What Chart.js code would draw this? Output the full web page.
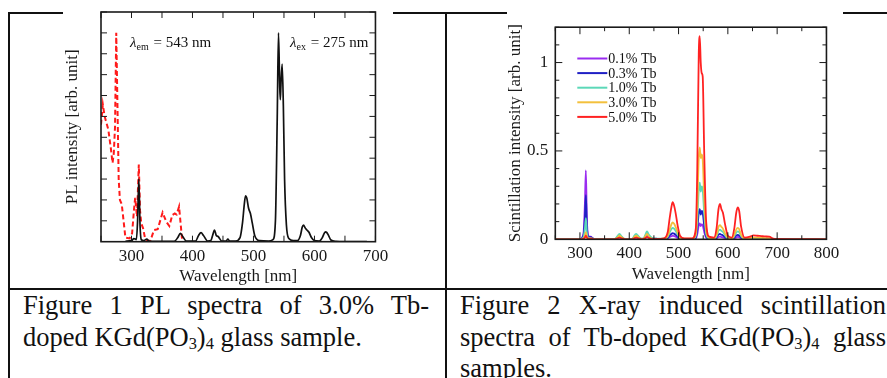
<!DOCTYPE html>
<html lang="en">
<head>
<meta charset="UTF-8">
<title>Tb-doped KGd(PO3)4 spectra</title>
<script src="https://cdn.jsdelivr.net/npm/chart.js"></script>
<style>
    body {
        margin: 0;
        width: 887px;
        height: 378px;
        overflow: hidden;
        position: relative;
        background: #fff;
        color: #111;
        font-family: "Liberation Serif", serif;
    }
    .rule { position: absolute; background: #111; }
    .fig { position: absolute; top: 10px; }
    .cap { position: absolute; top: 290px; font-size: 26.5px; line-height: 31.7px; }
    .cap .j { text-align: justify; text-align-last: justify; }
    sub { font-size: 0.62em; vertical-align: -0.18em; line-height: 0; }
</style>
</head>
<body>
    <!-- table rules -->
    <div class="rule" style="left:8px; top:12px; width:879px; height:2px;"></div>
    <div class="rule" style="left:8px; top:12px; width:2px; height:366px;"></div>
    <div class="rule" style="left:445px; top:12px; width:2px; height:366px;"></div>
    <div class="rule" style="left:8px; top:288px; width:879px; height:2px;"></div>

    <canvas id="fig1" class="fig" style="left:63px;" width="330" height="277"></canvas>
    <canvas id="fig2" class="fig" style="left:507px;" width="336" height="277"></canvas>

    <div class="cap" style="left:23px; width:406px;">
        <div class="j">Figure 1 PL spectra of 3.0% Tb-</div>
        <div>doped KGd(PO<sub>3</sub>)<sub>4</sub> glass sample.</div>
    </div>
    <div class="cap" style="left:460px; width:426px;">
        <div class="j">Figure 2 X-ray induced scintillation</div>
        <div class="j">spectra of Tb-doped KGd(PO<sub>3</sub>)<sub>4</sub> glass</div>
        <div>samples.</div>
    </div>

<script>
// Figure 1: PL emission (ex 275 nm) and excitation (em 543 nm), arb. units
const plEmWl = [290, 300, 304, 308, 310, 312, 314, 316, 320, 325, 329, 340, 370, 376, 380, 384, 390, 405, 410, 414,
    418, 425, 430, 433, 436, 439, 442, 448, 455, 458, 461, 470, 478, 482, 485, 487, 489, 492, 495, 498,
    502, 510, 525, 532, 536, 539, 541, 543, 544, 545, 547, 549, 551, 554, 558, 565, 572, 577, 580, 582,
    585, 588, 591, 595, 600, 608, 613, 616, 618, 620, 623, 627, 635, 650, 670, 686];
const plEm = [0.02, 0.05, 0.15, 0.1, 1.0, 3.0, 0.8, 0.1, 0.05, 0.12, 0.03, 0.02, 0.02, 0.2, 0.4, 0.25, 0.03, 0.03, 0.3, 0.43,
    0.3, 0.03, 0.05, 0.3, 0.56, 0.3, 0.25, 0.03, 0.03, 0.12, 0.03, 0.03, 0.2, 0.9, 1.8, 2.2, 2.1, 1.6, 1.35, 0.9,
    0.3, 0.05, 0.03, 0.1, 1.0, 6.0, 10.0, 7.5, 6.8, 7.5, 8.5, 6.5, 3.0, 0.8, 0.15, 0.05, 0.05, 0.3, 0.7, 0.8,
    0.65, 0.55, 0.45, 0.2, 0.05, 0.03, 0.2, 0.4, 0.47, 0.45, 0.3, 0.08, 0.02, 0.01, 0.01, 0.01];
const plExWl = [250, 253, 256, 262, 266, 269, 271, 273, 275, 277, 279, 281, 284, 287, 290, 297, 301, 304, 306, 309,
    312, 314, 316, 319, 322, 326, 331, 337, 343, 351, 357, 362, 367, 371, 374, 378, 381, 383];
const plEx = [5.6, 6.57, 6.0, 5.37, 4.5, 3.77, 4.25, 5.5, 10.0, 6.5, 3.0, 2.0, 1.8, 1.0, 0.2, 0.16, 0.4, 1.5, 2.1, 1.2,
    3.7, 1.5, 0.88, 0.64, 0.2, 0.05, 0.05, 0.56, 0.6, 1.4, 0.96, 0.75, 1.28, 1.35, 1.3, 1.68, 0.72, 0.1];
const fig1XTicks = [300, 400, 500, 600, 700];

// Figure 2: X-ray induced scintillation spectra
const scWl = [250, 300, 307, 310, 312, 314, 317, 322, 326, 330, 370, 376, 380, 385, 392, 406, 410, 414, 419, 426,
    430, 433, 436, 440, 446, 455, 470, 478, 482, 486, 488, 491, 494, 498, 503, 512, 528, 535, 538, 541,
    543, 545, 547, 549, 552, 556, 562, 572, 577, 581, 584, 587, 590, 594, 600, 608, 613, 617, 620, 623,
    627, 634, 645, 652, 660, 668, 676, 684, 692, 700, 800];
const sc01 = [0, 0, 0.03, 0.2, 0.39, 0.12, 0.02, 0.015, 0.006, 0, 0, 0.006, 0.01, 0.005, 0, 0, 0.007, 0.01, 0.005, 0.001,
    0.003, 0.009, 0.015, 0.008, 0.003, 0.002, 0.001, 0.005, 0.013, 0.018, 0.02, 0.018, 0.015, 0.008, 0.002, 0.001, 0.001, 0.005, 0.03, 0.08,
    0.09, 0.075, 0.085, 0.08, 0.043, 0.009, 0.002, 0.001, 0.005, 0.013, 0.015, 0.013, 0.011, 0.007, 0.002, 0.001, 0.005, 0.011, 0.014, 0.012,
    0.005, 0.001, 0.001, 0.002, 0.002, 0.002, 0.001, 0.001, 0, 0, 0];
const sc03 = [0, 0, 0.02, 0.12, 0.25, 0.08, 0.015, 0.012, 0.005, 0, 0, 0.012, 0.02, 0.01, 0, 0, 0.013, 0.02, 0.01, 0.002,
    0.006, 0.018, 0.03, 0.016, 0.005, 0.003, 0.002, 0.008, 0.022, 0.032, 0.035, 0.032, 0.026, 0.015, 0.004, 0.001, 0.001, 0.01, 0.06, 0.15,
    0.17, 0.14, 0.16, 0.15, 0.08, 0.016, 0.003, 0.002, 0.01, 0.026, 0.03, 0.026, 0.022, 0.013, 0.003, 0.002, 0.01, 0.021, 0.025, 0.022,
    0.01, 0.002, 0.002, 0.003, 0.003, 0.003, 0.002, 0.002, 0.001, 0, 0];
const sc10 = [0, 0, 0.01, 0.06, 0.12, 0.04, 0.008, 0.008, 0.004, 0, 0, 0.018, 0.03, 0.015, 0, 0, 0.02, 0.03, 0.016, 0.002,
    0.01, 0.028, 0.045, 0.025, 0.008, 0.004, 0.003, 0.015, 0.04, 0.06, 0.065, 0.06, 0.048, 0.028, 0.008, 0.002, 0.002, 0.02, 0.11, 0.28,
    0.32, 0.27, 0.3, 0.28, 0.15, 0.03, 0.005, 0.003, 0.018, 0.048, 0.055, 0.048, 0.042, 0.024, 0.005, 0.003, 0.018, 0.038, 0.045, 0.04,
    0.018, 0.003, 0.004, 0.006, 0.005, 0.005, 0.004, 0.004, 0.001, 0, 0];
const sc30 = [0, 0, 0.005, 0.02, 0.04, 0.015, 0.003, 0.004, 0.002, 0, 0, 0.01, 0.02, 0.01, 0, 0, 0.012, 0.02, 0.01, 0,
    0.006, 0.018, 0.03, 0.015, 0.004, 0.002, 0.003, 0.02, 0.055, 0.088, 0.095, 0.088, 0.07, 0.04, 0.01, 0.003, 0.003, 0.03, 0.18, 0.46,
    0.52, 0.46, 0.48, 0.45, 0.24, 0.05, 0.008, 0.005, 0.025, 0.07, 0.08, 0.07, 0.06, 0.035, 0.008, 0.004, 0.025, 0.055, 0.065, 0.058,
    0.025, 0.004, 0.006, 0.01, 0.009, 0.008, 0.007, 0.006, 0.002, 0, 0];
const sc50 = [0, 0, 0.003, 0.01, 0.02, 0.01, 0.003, 0.005, 0.003, 0, 0, 0.005, 0.01, 0.005, 0, 0, 0.006, 0.01, 0.005, 0,
    0.003, 0.008, 0.012, 0.008, 0.002, 0.002, 0.005, 0.04, 0.12, 0.19, 0.21, 0.19, 0.15, 0.08, 0.02, 0.005, 0.005, 0.06, 0.4, 1.05,
    1.15, 1.0, 0.94, 0.92, 0.5, 0.1, 0.015, 0.01, 0.06, 0.17, 0.2, 0.17, 0.15, 0.09, 0.02, 0.01, 0.06, 0.15, 0.18, 0.16,
    0.07, 0.01, 0.015, 0.022, 0.02, 0.018, 0.016, 0.015, 0.004, 0.002, 0];
const scLabels = ['0.1% Tb', '0.3% Tb', '1.0% Tb', '3.0% Tb', '5.0% Tb'];
const fig2XTicks = [300, 400, 500, 600, 700, 800];
const fig2YTicks = [0, 0.5, 1];

Chart.defaults.font.family = '"Liberation Serif", "Times New Roman", serif';
Chart.defaults.color = '#1a1a1a';

const pts = (xs, ys) => xs.map((x, i) => ({ x: x, y: ys[i] }));
const fixTicks = vals => s => { s.ticks = vals.map(v => ({ value: v })); };
const plain = v => String(v);

// white background, box frame and inward ticks on all four sides
function frameTicks(xStep, xEvery, yStep, yEvery, yCount, majLen, minLen) {
    return {
        id: 'frameTicks',
        beforeDraw(chart) {
            const ctx = chart.ctx;
            ctx.save();
            ctx.fillStyle = '#fff';
            ctx.fillRect(0, 0, chart.width, chart.height);
            ctx.restore();
        },
        afterDatasetsDraw(chart) {
            const { ctx, chartArea: a, scales: { x, y } } = chart;
            ctx.save();
            ctx.strokeStyle = '#1a1a1a';
            ctx.lineWidth = 1;
            ctx.beginPath();
            for (let i = 0; x.min + i * xStep <= x.max; i++) {
                const px = x.getPixelForValue(x.min + i * xStep);
                const len = (i % xEvery === 1) ? majLen : minLen;
                ctx.moveTo(px, a.bottom); ctx.lineTo(px, a.bottom - len);
                ctx.moveTo(px, a.top); ctx.lineTo(px, a.top + len);
            }
            for (let i = 1; i <= yCount; i++) {
                const py = y.getPixelForValue(i * yStep);
                const len = (i % yEvery === 0) ? majLen : minLen;
                ctx.moveTo(a.left, py); ctx.lineTo(a.left + len, py);
                ctx.moveTo(a.right, py); ctx.lineTo(a.right - len, py);
            }
            ctx.stroke();
            ctx.lineWidth = 1.6;
            ctx.strokeRect(a.left, a.top, a.right - a.left, a.bottom - a.top);
            ctx.restore();
        }
    };
}

// Figure 1 annotations: lambda_em and lambda_ex
function lambdaText(ctx, x, y, sub, rest) {
    ctx.font = 'italic 15px "Liberation Serif"';
    ctx.fillText('λ', x, y);
    let w = ctx.measureText('λ').width;
    ctx.font = '10px "Liberation Serif"';
    ctx.fillText(sub, x + w, y + 3);
    w += ctx.measureText(sub).width;
    ctx.font = '15px "Liberation Serif"';
    ctx.fillText(rest, x + w + 1, y);
}

const fig1Notes = {
    id: 'fig1Notes',
    afterDraw(chart) {
        const { ctx, chartArea: a } = chart;
        ctx.save();
        ctx.fillStyle = '#111';
        ctx.textBaseline = 'alphabetic';
        lambdaText(ctx, a.left + 29, a.top + 35, 'em', ' = 543 nm');
        lambdaText(ctx, a.left + 189, a.top + 35, 'ex', ' = 275 nm');
        ctx.restore();
    }
};

// Figure 2 legend inside the plot
const fig2Legend = {
    id: 'fig2Legend',
    afterDraw(chart) {
        const { ctx, chartArea: a } = chart;
        ctx.save();
        ctx.font = '14px "Liberation Serif"';
        ctx.textBaseline = 'middle';
        ctx.fillStyle = '#111';
        chart.data.datasets.forEach((ds, i) => {
            const yy = a.top + 31.3 + i * 14.6;
            ctx.strokeStyle = ds.borderColor;
            ctx.lineWidth = 2;
            ctx.beginPath();
            ctx.moveTo(a.left + 22, yy);
            ctx.lineTo(a.left + 52, yy);
            ctx.stroke();
            ctx.fillText(ds.label, a.left + 53, yy + 1);
        });
        ctx.restore();
    }
};

new Chart(document.getElementById('fig1'), {
    type: 'line',
    data: {
        datasets: [
            {
                label: 'Emission',
                data: pts(plEmWl, plEm),
                borderColor: '#111',
                borderWidth: 1.7,
                tension: 0.4,
                cubicInterpolationMode: 'monotone'
            },
            {
                label: 'Excitation',
                data: pts(plExWl, plEx),
                borderColor: '#ff1a1a',
                borderWidth: 2,
                borderDash: [5, 3],
                tension: 0
            }
        ]
    },
    options: {
        responsive: false,
        animation: false,
        elements: { point: { radius: 0 } },
        layout: { padding: { left: 0, top: 2, right: 15, bottom: 0 } },
        plugins: { legend: { display: false }, tooltip: { enabled: false } },
        scales: {
            x: {
                type: 'linear',
                min: 250,
                max: 700,
                afterBuildTicks: fixTicks(fig1XTicks),
                afterFit: s => { s.height = 45.3; },
                grid: { display: false, drawTicks: false },
                border: { display: false },
                ticks: { padding: 4.8, font: { size: 17 }, autoSkip: false, callback: plain },
                title: { display: true, text: 'Wavelength [nm]', font: { size: 17, lineHeight: 1 }, padding: { top: 0, bottom: 1.8 } }
            },
            y: {
                min: 0,
                max: 11,
                afterFit: s => { s.width = 38; },
                grid: { display: false, drawTicks: false },
                border: { display: false },
                ticks: { display: false },
                title: { display: true, text: 'PL intensity [arb. unit]', font: { size: 17, lineHeight: 1 }, padding: { top: 1.5, bottom: 0 } }
            }
        }
    },
    plugins: [frameTicks(50, 2, 1, 100, 11, 6, 6), fig1Notes]
});

new Chart(document.getElementById('fig2'), {
    type: 'line',
    data: {
        datasets: [
            { label: scLabels[0], data: pts(scWl, sc01), borderColor: '#9a2cf0', order: 4 },
            { label: scLabels[1], data: pts(scWl, sc03), borderColor: '#1f1fc4', order: 3 },
            { label: scLabels[2], data: pts(scWl, sc10), borderColor: '#5cd8b8', order: 2 },
            { label: scLabels[3], data: pts(scWl, sc30), borderColor: '#f3c03c', order: 1 },
            { label: scLabels[4], data: pts(scWl, sc50), borderColor: '#ff2222', order: 0 }
        ]
    },
    options: {
        responsive: false,
        animation: false,
        elements: {
            point: { radius: 0 },
            line: { borderWidth: 1.8, tension: 0.4, cubicInterpolationMode: 'monotone' }
        },
        layout: { padding: { left: 0, top: 2, right: 15.3, bottom: 0 } },
        plugins: { legend: { display: false }, tooltip: { enabled: false } },
        scales: {
            x: {
                type: 'linear',
                min: 250,
                max: 800,
                afterBuildTicks: fixTicks(fig2XTicks),
                afterFit: s => { s.height = 47.7; },
                grid: { display: false, drawTicks: false },
                border: { display: false },
                ticks: { padding: 3.8, font: { size: 17 }, autoSkip: false, callback: plain },
                title: { display: true, text: 'Wavelength [nm]', font: { size: 17, lineHeight: 1 }, padding: { top: 0, bottom: 3.5 } }
            },
            y: {
                min: 0,
                max: 1.2,
                afterBuildTicks: fixTicks(fig2YTicks),
                afterFit: s => { s.width = 48.3; },
                grid: { display: false, drawTicks: false },
                border: { display: false },
                ticks: { padding: 7, font: { size: 17 }, autoSkip: false, callback: plain },
                title: { display: true, text: 'Scintillation intensity [arb. unit]', font: { size: 17, lineHeight: 1 }, padding: { top: 0, bottom: 0 } }
            }
        }
    },
    plugins: [frameTicks(50, 2, 0.1, 5, 12, 7, 4), fig2Legend]
});
</script>
</body>
</html>
